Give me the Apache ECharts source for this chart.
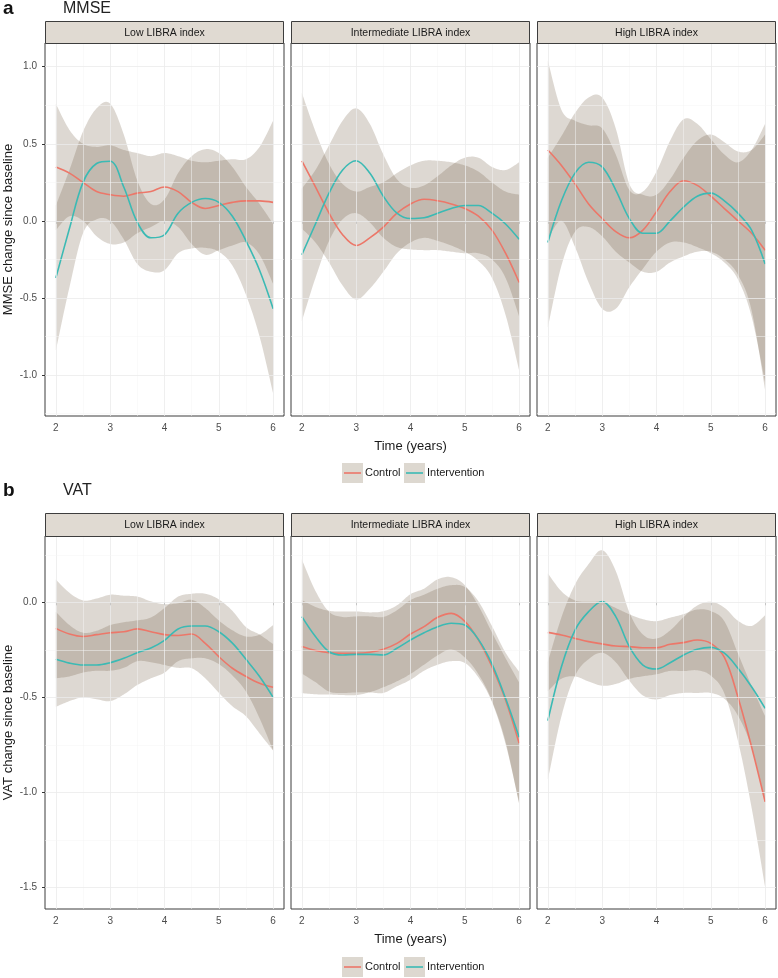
<!DOCTYPE html>
<html><head><meta charset="utf-8">
<script src="https://cdn.jsdelivr.net/npm/echarts@6/dist/echarts.min.js"></script>
<style>html,body{margin:0;padding:0;background:#fff}#c{width:778px;height:978px}</style>
</head><body><div id="c"></div>
<script>
// ---------- data ----------
const years = [2,2.25,2.5,2.75,3,3.25,3.5,3.75,4,4.25,4.5,4.75,5,5.25,5.5,5.75,6];
const facets = ['Low LIBRA index','Intermediate LIBRA index','High LIBRA index'];
const groups = ['Control','Intervention'];
const xTicks = [2,3,4,5,6];
const xMinor = [2.5,3.5,4.5,5.5];
const mmseTicks = [-1,-0.5,0,0.5,1];
const mmseMinor = [-1.25,-0.75,-0.25,0.25,0.75];
const vatTicks = [-1.5,-1,-0.5,0];
const vatMinor = [-1.25,-0.75,-0.25,0.25];

// MMSE - Low
const mmseLowCtrl   = [0.35,0.31,0.25,0.19,0.17,0.16,0.18,0.19,0.22,0.19,0.12,0.08,0.10,0.12,0.13,0.13,0.12];
const mmseLowCtrlLo = [-0.06,0.03,0.00,-0.10,-0.15,-0.14,-0.08,-0.04,0.00,-0.04,-0.15,-0.22,-0.19,-0.16,-0.14,-0.22,-0.41];
const mmseLowCtrlHi = [0.76,0.59,0.50,0.48,0.49,0.46,0.44,0.42,0.44,0.42,0.39,0.38,0.39,0.40,0.40,0.48,0.65];
const mmseLowInt    = [-0.37,-0.05,0.25,0.372,0.387,0.22,-0.01,-0.11,-0.09,0.05,0.12,0.145,0.12,0.03,-0.13,-0.32,-0.57];
const mmseLowIntLo  = [-0.84,-0.43,-0.08,0.01,0.00,-0.12,-0.28,-0.33,-0.32,-0.21,-0.18,-0.175,-0.20,-0.29,-0.48,-0.75,-1.12];
const mmseLowIntHi  = [0.10,0.33,0.58,0.73,0.76,0.56,0.26,0.11,0.14,0.31,0.42,0.465,0.44,0.35,0.22,0.11,-0.02];
// MMSE - Intermediate
const mmseMidCtrl   = [0.39,0.22,0.05,-0.09,-0.16,-0.11,-0.04,0.05,0.11,0.14,0.13,0.11,0.08,0.03,-0.06,-0.21,-0.40];
const mmseMidCtrlLo = [-0.05,-0.14,-0.27,-0.42,-0.51,-0.44,-0.33,-0.21,-0.14,-0.11,-0.13,-0.16,-0.20,-0.26,-0.37,-0.61,-0.97];
const mmseMidCtrlHi = [0.83,0.58,0.37,0.24,0.19,0.22,0.25,0.31,0.36,0.39,0.39,0.38,0.36,0.32,0.25,0.19,0.17];
const mmseMidInt    = [-0.22,-0.02,0.18,0.33,0.39,0.31,0.16,0.05,0.015,0.02,0.05,0.08,0.10,0.10,0.05,-0.02,-0.12];
const mmseMidIntLo  = [-0.65,-0.37,-0.13,0.01,0.05,-0.01,-0.11,-0.17,-0.185,-0.19,-0.19,-0.20,-0.21,-0.21,-0.25,-0.37,-0.62];
const mmseMidIntHi  = [0.21,0.33,0.49,0.65,0.73,0.63,0.43,0.27,0.215,0.23,0.29,0.36,0.41,0.41,0.35,0.33,0.38];
// MMSE - High
const mmseHighCtrl   = [0.46,0.36,0.24,0.11,0.015,-0.07,-0.11,-0.06,0.06,0.19,0.26,0.23,0.16,0.08,0.00,-0.08,-0.19];
const mmseHighCtrlLo = [-0.12,0.00,-0.17,-0.40,-0.57,-0.57,-0.43,-0.31,-0.20,-0.14,-0.14,-0.17,-0.21,-0.27,-0.38,-0.62,-1.05];
const mmseHighCtrlHi = [1.04,0.72,0.65,0.62,0.60,0.43,0.20,0.19,0.32,0.52,0.66,0.63,0.53,0.43,0.38,0.46,0.63];
const mmseHighInt    = [-0.14,0.13,0.31,0.38,0.35,0.20,0.015,-0.08,-0.08,0.00,0.09,0.16,0.18,0.13,0.05,-0.06,-0.28];
const mmseHighIntLo  = [-0.69,-0.29,-0.07,-0.04,-0.10,-0.20,-0.27,-0.33,-0.33,-0.27,-0.23,-0.20,-0.20,-0.25,-0.35,-0.58,-1.10];
const mmseHighIntHi  = [0.41,0.55,0.70,0.80,0.80,0.60,0.24,0.17,0.17,0.27,0.41,0.52,0.56,0.51,0.45,0.46,0.56];

// VAT - Low
const vatLowCtrl   = [-0.137,-0.167,-0.18,-0.17,-0.16,-0.155,-0.14,-0.155,-0.17,-0.175,-0.167,-0.216,-0.286,-0.347,-0.39,-0.426,-0.447];
const vatLowCtrlLo = [-0.40,-0.39,-0.37,-0.36,-0.36,-0.345,-0.31,-0.315,-0.33,-0.345,-0.347,-0.40,-0.476,-0.547,-0.60,-0.69,-0.78];
const vatLowCtrlHi = [0.12,0.05,0.01,0.02,0.04,0.035,0.03,0.005,-0.01,-0.005,0.013,-0.03,-0.096,-0.147,-0.18,-0.17,-0.12];
const vatLowInt    = [-0.30,-0.32,-0.33,-0.33,-0.318,-0.295,-0.265,-0.24,-0.20,-0.14,-0.125,-0.125,-0.155,-0.215,-0.30,-0.39,-0.50];
const vatLowIntLo  = [-0.55,-0.52,-0.50,-0.51,-0.52,-0.485,-0.435,-0.40,-0.37,-0.31,-0.295,-0.295,-0.325,-0.385,-0.47,-0.61,-0.78];
const vatLowIntHi  = [-0.05,-0.12,-0.16,-0.15,-0.12,-0.105,-0.095,-0.08,-0.03,0.03,0.045,0.045,0.015,-0.045,-0.13,-0.17,-0.22];
// VAT - Intermediate
const vatMidCtrl   = [-0.233,-0.254,-0.265,-0.268,-0.268,-0.263,-0.247,-0.216,-0.167,-0.128,-0.079,-0.058,-0.10,-0.198,-0.339,-0.514,-0.742];
const vatMidCtrlLo = [-0.478,-0.484,-0.485,-0.488,-0.488,-0.473,-0.447,-0.416,-0.377,-0.328,-0.279,-0.248,-0.29,-0.378,-0.519,-0.734,-1.062];
const vatMidCtrlHi = [0.012,-0.024,-0.045,-0.048,-0.048,-0.053,-0.047,-0.016,0.043,0.072,0.121,0.132,0.09,-0.018,-0.159,-0.294,-0.422];
const vatMidInt    = [-0.075,-0.18,-0.26,-0.277,-0.274,-0.274,-0.277,-0.242,-0.198,-0.16,-0.128,-0.11,-0.119,-0.195,-0.325,-0.505,-0.71];
const vatMidIntLo  = [-0.375,-0.42,-0.47,-0.477,-0.474,-0.474,-0.477,-0.442,-0.408,-0.36,-0.328,-0.31,-0.319,-0.395,-0.525,-0.745,-1.055];
const vatMidIntHi  = [0.225,0.06,-0.05,-0.077,-0.074,-0.074,-0.077,-0.042,0.012,0.04,0.072,0.09,0.081,0.005,-0.125,-0.265,-0.365];
// VAT - High
const vatHighCtrl   = [-0.158,-0.172,-0.19,-0.207,-0.219,-0.23,-0.233,-0.239,-0.239,-0.221,-0.212,-0.198,-0.216,-0.29,-0.50,-0.76,-1.05];
const vatHighCtrlLo = [-0.468,-0.402,-0.39,-0.417,-0.439,-0.43,-0.403,-0.389,-0.379,-0.361,-0.362,-0.358,-0.386,-0.48,-0.73,-1.08,-1.50];
const vatHighCtrlHi = [0.152,0.058,0.01,0.003,0.001,-0.03,-0.063,-0.089,-0.099,-0.081,-0.062,-0.038,-0.046,-0.10,-0.27,-0.44,-0.60];
const vatHighInt    = [-0.623,-0.339,-0.146,-0.049,0.004,-0.075,-0.233,-0.33,-0.351,-0.318,-0.277,-0.247,-0.237,-0.268,-0.347,-0.444,-0.558];
const vatHighIntLo  = [-0.933,-0.599,-0.386,-0.299,-0.266,-0.315,-0.413,-0.49,-0.511,-0.488,-0.477,-0.477,-0.477,-0.508,-0.597,-0.764,-1.048];
const vatHighIntHi  = [-0.313,-0.079,0.094,0.201,0.274,0.165,-0.053,-0.17,-0.191,-0.148,-0.077,-0.017,0.003,-0.028,-0.097,-0.124,-0.068];

// ---------- layout / style ----------
const FONT = '"Liberation Sans", Arial, Helvetica, sans-serif';
const COLORS = ['#EC7769', '#3BBAB4'];
const BAND = 'rgba(98,78,50,0.22)';
const STRIP = '#E0DAD2';
const KEYFILL = '#DDD8D0';
const facetLeft = [45, 291, 537];
const facetWidth = 239;
const SMOOTH = 0.35;

// bezier-smoothed path through pixel points (same idea as ECharts' smooth line)
function smoothPts(pts, s) {
  const out = [pts[0]];
  const n = pts.length;
  for (let i = 0; i < n - 1; i++) {
    const p0 = pts[Math.max(i - 1, 0)], p1 = pts[i], p2 = pts[i + 1], p3 = pts[Math.min(i + 2, n - 1)];
    const c1 = [p1[0] + (p2[0] - p0[0]) * s / 2, p1[1] + (p2[1] - p0[1]) * s / 2];
    const c2 = [p2[0] - (p3[0] - p1[0]) * s / 2, p2[1] - (p3[1] - p1[1]) * s / 2];
    for (let t = 1; t <= 10; t++) {
      const u = t / 10, a = (1 - u) ** 3, b = 3 * (1 - u) ** 2 * u, c = 3 * (1 - u) * u * u, d = u ** 3;
      out.push([a * p1[0] + b * c1[0] + c * c2[0] + d * p2[0], a * p1[1] + b * c1[1] + c * c2[1] + d * p2[1]]);
    }
  }
  return out;
}

const panels = [
  {tag:'a', title:'MMSE', yName:'MMSE change since baseline', top:43, height:373, min:-1.266, max:1.154,
   ticks:mmseTicks, minor:mmseMinor, tagY:8.5, stripTop:21, legendY:473,
   data:[[mmseLowCtrl,mmseLowCtrlLo,mmseLowCtrlHi,mmseLowInt,mmseLowIntLo,mmseLowIntHi],
         [mmseMidCtrl,mmseMidCtrlLo,mmseMidCtrlHi,mmseMidInt,mmseMidIntLo,mmseMidIntHi],
         [mmseHighCtrl,mmseHighCtrlLo,mmseHighCtrlHi,mmseHighInt,mmseHighIntLo,mmseHighIntHi]]},
  {tag:'b', title:'VAT', yName:'VAT change since baseline', top:536, height:373, min:-1.614, max:0.349,
   ticks:vatTicks, minor:vatMinor, tagY:490.5, stripTop:513, legendY:967,
   data:[[vatLowCtrl,vatLowCtrlLo,vatLowCtrlHi,vatLowInt,vatLowIntLo,vatLowIntHi],
         [vatMidCtrl,vatMidCtrlLo,vatMidCtrlHi,vatMidInt,vatMidIntLo,vatMidIntHi],
         [vatHighCtrl,vatHighCtrlLo,vatHighCtrlHi,vatHighInt,vatHighIntLo,vatHighIntHi]]}
];

const grid = [], xAxis = [], yAxis = [], series = [], graphic = [];

panels.forEach((p, pi) => {
  graphic.push({type:'text', x:3, y:p.tagY, style:{text:p.tag, font:'bold 19px '+FONT, fill:'#111', verticalAlign:'middle'}});
  graphic.push({type:'text', x:63, y:p.tagY, style:{text:p.title, font:'16px '+FONT, fill:'#222', verticalAlign:'middle'}});
  facets.forEach((fname, fi) => {
    const g = pi*3 + fi;
    grid.push({left:facetLeft[fi], top:p.top, width:facetWidth, height:p.height, show:true,
               borderColor:'#3d3d3d', borderWidth:1, backgroundColor:'#ffffff'});
    xAxis.push({type:'value', gridIndex:g, min:1.8, max:6.2,
      axisLine:{show:false}, splitLine:{show:false},
      axisTick:{show:true, customValues:xTicks, length:3, lineStyle:{color:'#333'}},
      axisLabel:{customValues:xTicks, color:'#4d4d4d', fontSize:10, fontFamily:FONT, margin:7},
      name: fi === 1 ? 'Time (years)' : '', nameLocation:'middle', nameGap:24,
      nameTextStyle:{fontSize:13, color:'#1a1a1a', fontFamily:FONT}});
    yAxis.push({type:'value', gridIndex:g, min:p.min, max:p.max,
      axisLine:{show:false}, splitLine:{show:false},
      axisTick:{show: fi === 0, customValues:p.ticks, length:3, lineStyle:{color:'#333'}},
      axisLabel:{show: fi === 0, customValues:p.ticks, color:'#4d4d4d', fontSize:10, fontFamily:FONT, margin:8,
                 formatter: v => Number(v).toFixed(1)},
      name: fi === 0 ? p.yName : '', nameLocation:'middle', nameGap:30,
      nameTextStyle:{fontSize:13, color:'#1a1a1a', fontFamily:FONT}});
    // grid lines
    const ml = [];
    xTicks.forEach(v => ml.push({xAxis:v, lineStyle:{color:'#ebebeb', width:0.8}}));
    xMinor.forEach(v => ml.push({xAxis:v, lineStyle:{color:'#f4f4f4', width:0.5}}));
    p.ticks.forEach(v => ml.push({yAxis:v, lineStyle:{color:'#ebebeb', width:0.8}}));
    p.minor.forEach(v => ml.push({yAxis:v, lineStyle:{color:'#f4f4f4', width:0.5}}));
    series.push({type:'line', xAxisIndex:g, yAxisIndex:g, data:[[2, 0]], symbol:'none', silent:true,
      lineStyle:{opacity:0}, z:1,
      markLine:{silent:true, symbol:['none','none'], label:{show:false}, animation:false,
                lineStyle:{type:'solid'}, data:ml}});
    const d = p.data[fi];
    // confidence bands
    [[d[1], d[2]], [d[4], d[5]]].forEach(([lo, hi]) => {
      series.push({type:'custom', xAxisIndex:g, yAxisIndex:g, silent:true, z:2, clip:true,
        data: years.map((x, i) => [x, lo[i], hi[i]]),
        renderItem: (params, api) => {
          if (params.dataIndex !== 0) return null;
          const up = years.map((x, i) => api.coord([x, hi[i]]));
          const dn = years.map((x, i) => api.coord([x, lo[i]]));
          const pts = smoothPts(up, SMOOTH).concat(smoothPts(dn, SMOOTH).reverse());
          return {type:'polygon', shape:{points:pts}, style:{fill:BAND}};
        }});
    });
    [d[0], d[3]].forEach((m, k) => {
      series.push({type:'line', name:groups[k], xAxisIndex:g, yAxisIndex:g, smooth:SMOOTH, symbol:'none',
        lineStyle:{color:COLORS[k], width:1.6}, itemStyle:{color:COLORS[k]}, z:3,
        data: years.map((x, i) => [x, m[i]])});
    });
    // strip
    graphic.push({type:'rect', shape:{x:facetLeft[fi]+0.5, y:p.stripTop+0.5, width:facetWidth-1, height:p.top - p.stripTop},
                  style:{fill:STRIP, stroke:'#3d3d3d', lineWidth:1}, z:10});
    graphic.push({type:'text', x:facetLeft[fi] + facetWidth/2, y:(p.stripTop + p.top)/2 + 1,
                  style:{text:fname, font:'10.5px '+FONT, fill:'#1a1a1a', align:'center', verticalAlign:'middle'}, z:11});
  });
  // legend
  const ly = p.legendY;
  const keys = [{x:342, tx:365}, {x:404, tx:427}];
  keys.forEach((kk, k) => {
    graphic.push({type:'rect', shape:{x:kk.x, y:ly-10, width:21, height:20}, style:{fill:KEYFILL}, z:10});
    graphic.push({type:'line', shape:{x1:kk.x+2, y1:ly, x2:kk.x+19, y2:ly}, style:{stroke:COLORS[k], lineWidth:1.6}, z:11});
    graphic.push({type:'text', x:kk.tx, y:ly, style:{text:groups[k], font:'11px '+FONT, fill:'#1a1a1a', verticalAlign:'middle'}, z:11});
  });
});

const chart = echarts.init(document.getElementById('c'), null, {renderer:'canvas', width:778, height:978});
chart.setOption({
  animation:false,
  backgroundColor:'#ffffff',
  grid, xAxis, yAxis, series, graphic
});
</script>
</body></html>
